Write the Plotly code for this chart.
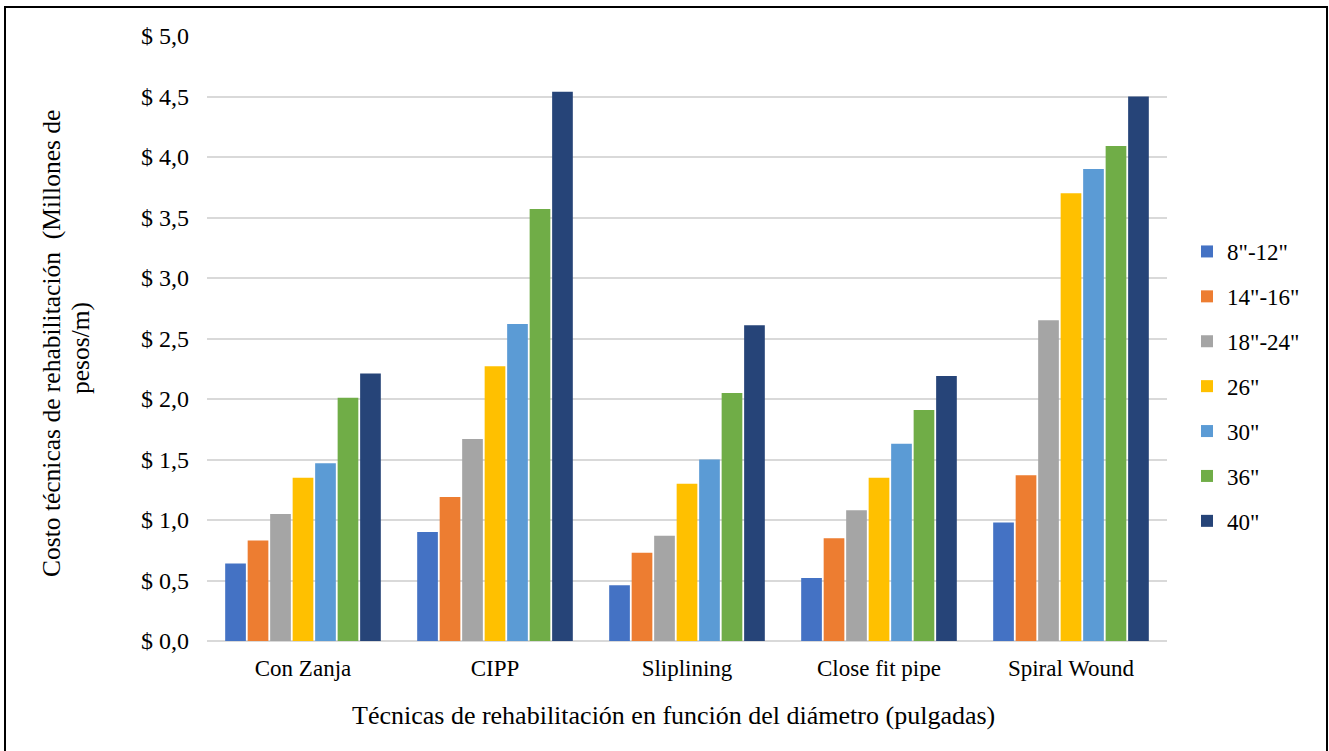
import plotly.graph_objects as go

categories = ["Con Zanja", "CIPP", "Sliplining", "Close fit pipe", "Spiral Wound"]
series_names = ['8"-12"', '14"-16"', '18"-24"', '26"', '30"', '36"', '40"']
series_colors = ["#4472C4", "#ED7D31", "#A5A5A5", "#FFC000", "#5B9BD5", "#70AD47", "#264478"]

v_8_12 = [0.64, 0.90, 0.46, 0.52, 0.98]
v_14_16 = [0.83, 1.19, 0.73, 0.85, 1.37]
v_18_24 = [1.05, 1.67, 0.87, 1.08, 2.65]
v_26 = [1.35, 2.27, 1.30, 1.35, 3.70]
v_30 = [1.47, 2.62, 1.50, 1.63, 3.90]
v_36 = [2.01, 3.57, 2.05, 1.91, 4.09]
v_40 = [2.21, 4.54, 2.61, 2.19, 4.50]
series_values = [v_8_12, v_14_16, v_18_24, v_26, v_30, v_36, v_40]

tick_vals = [0, 0.5, 1, 1.5, 2, 2.5, 3, 3.5, 4, 4.5, 5]
tick_text = ["$ 0,0", "$ 0,5", "$ 1,0", "$ 1,5", "$ 2,0", "$ 2,5", "$ 3,0", "$ 3,5", "$ 4,0", "$ 4,5", "$ 5,0"]

FONT = "Liberation Serif"

fig = go.Figure()
for name, vals, col in zip(series_names, series_values, series_colors):
    fig.add_trace(go.Bar(
        x=categories, y=vals, name=name, legendgroup=name,
        marker=dict(color=col, line=dict(width=0)),
    ))

L, R, T, B = 207, 162, 36, 110
W, H = 1329, 751
pw, ph = W - L - R, H - T - B

def px_x(p):
    return (p - L) / pw

def px_y(p):
    return (H - B - p) / ph

fig.update_layout(
    width=W, height=H,
    margin=dict(l=L, r=R, t=T, b=B),
    paper_bgcolor="white", plot_bgcolor="white",
    font=dict(family=FONT, size=23, color="black"),
    barmode="group", bargap=0.18, bargroupgap=0.08,
    showlegend=True,
    legend=dict(
        x=px_x(1187), y=px_y(230), xanchor="left", yanchor="top",
        font=dict(family=FONT, size=23, color="black"),
        tracegroupgap=12, itemwidth=30,
        bgcolor="rgba(0,0,0,0)",
    ),
    xaxis=dict(
        showgrid=False, showline=False, ticks="",
        ticklabelstandoff=11,
        tickfont=dict(family=FONT, size=23, color="black"),
    ),
    yaxis=dict(
        range=[0, 5], tickvals=tick_vals, ticktext=tick_text,
        showgrid=True, gridcolor="#D9D9D9", gridwidth=1.5,
        zeroline=True, zerolinecolor="#D9D9D9", zerolinewidth=1.5,
        showline=False, ticks="", ticklabelstandoff=17,
        tickfont=dict(family=FONT, size=24, color="black"),
    ),
    annotations=[
        dict(
            text="Costo técnicas de rehabilitación  (Millones de",
            x=px_x(52), y=px_y(344), xref="paper", yref="paper",
            textangle=-90, showarrow=False,
            font=dict(family=FONT, size=25.5, color="black"),
            xanchor="center", yanchor="middle",
        ),
        dict(
            text="pesos/m)",
            x=px_x(80), y=px_y(348), xref="paper", yref="paper",
            textangle=-90, showarrow=False,
            font=dict(family=FONT, size=25.5, color="black"),
            xanchor="center", yanchor="middle",
        ),
        dict(
            text="Técnicas de rehabilitación en función del diámetro (pulgadas)",
            x=px_x(673), y=px_y(715), xref="paper", yref="paper",
            showarrow=False,
            font=dict(family=FONT, size=26, color="black"),
            xanchor="center", yanchor="middle",
        ),
    ],
    shapes=[
        dict(
            type="rect", xref="paper", yref="paper",
            x0=px_x(5), x1=px_x(1327), y0=px_y(753), y1=px_y(7),
            line=dict(color="black", width=2), fillcolor="rgba(0,0,0,0)",
            layer="above",
        )
    ],
)

fig.write_html("out.html", config={"displayModeBar": False},
               post_script="document.body.style.margin='0';")
